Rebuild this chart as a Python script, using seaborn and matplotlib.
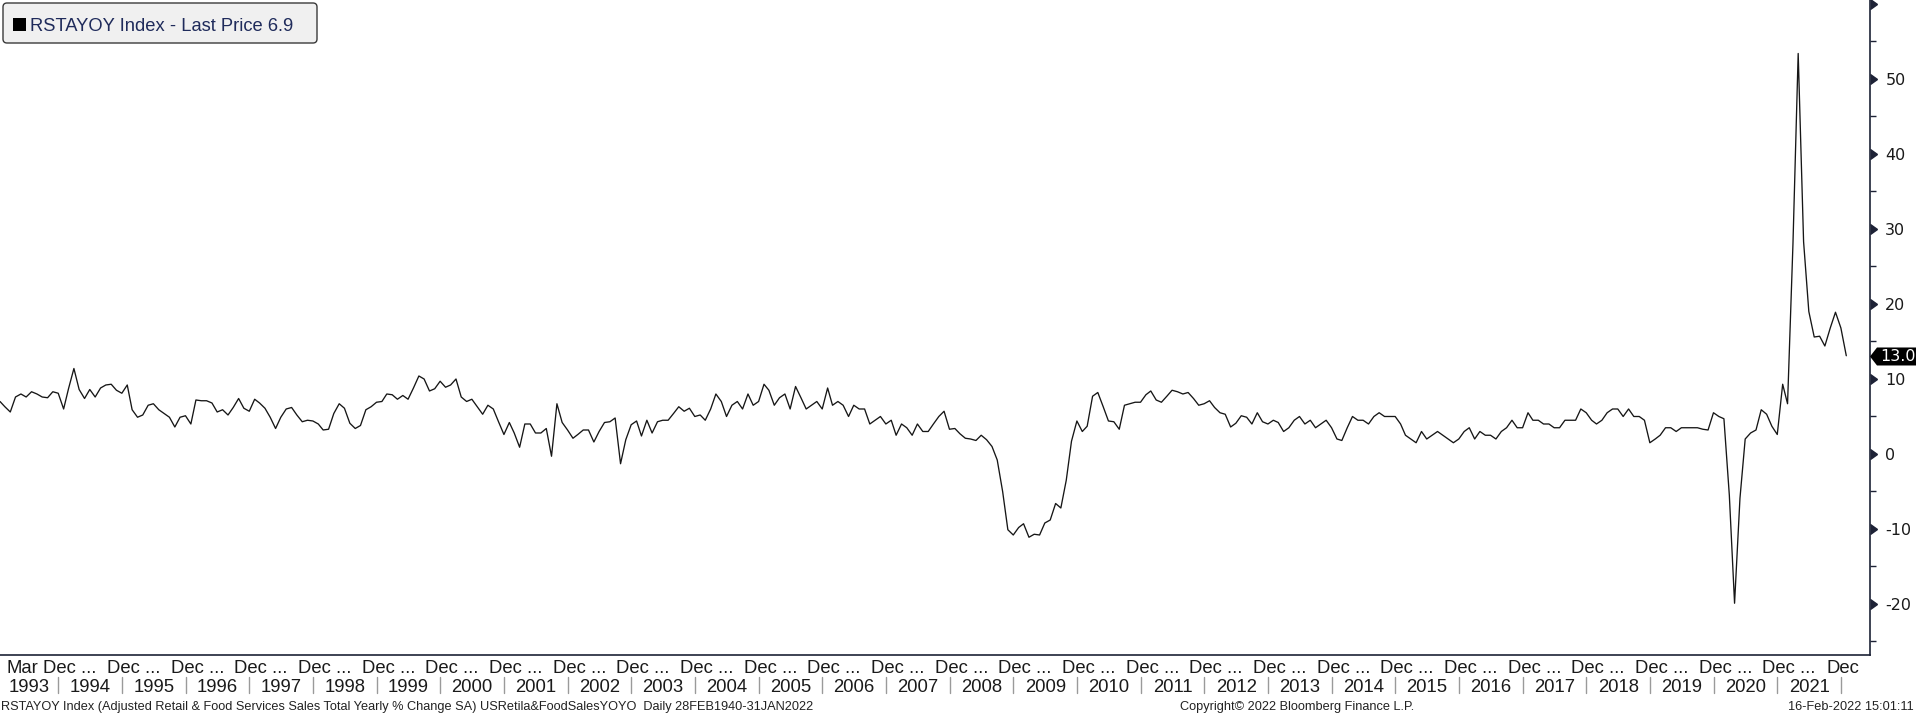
import numpy as np
import pandas as pd
import matplotlib
matplotlib.use('Agg')
import matplotlib.pyplot as plt
import matplotlib.dates as mdates
import matplotlib.transforms as mtransforms
from matplotlib.patches import FancyBboxPatch, Polygon, Rectangle
from matplotlib.lines import Line2D
import seaborn as sns

# monthly retail sales yoy %, Jan 1993 .. Jan 2022
yoy = [
    7.0, 6.3, 5.6, 7.6, 8.0, 7.6, 8.3, 8.0, 7.6, 7.5, 8.3, 8.1,        # 1993
    6.0, 8.7, 11.4, 8.6, 7.4, 8.6, 7.6, 8.8, 9.2, 9.3, 8.5, 8.1,       # 1994
    9.2, 5.9, 4.9, 5.2, 6.5, 6.7, 5.9, 5.4, 4.9, 3.6, 4.9, 5.1,        # 1995
    4.0, 7.2, 7.1, 7.1, 6.8, 5.6, 5.9, 5.2, 6.2, 7.4, 6.1, 5.7,        # 1996
    7.3, 6.8, 6.1, 4.9, 3.4, 4.9, 6.0, 6.2, 5.2, 4.3, 4.5, 4.4,        # 1997
    4.0, 3.2, 3.3, 5.4, 6.7, 6.1, 4.1, 3.4, 3.8, 5.9, 6.3, 6.9,        # 1998
    7.0, 8.0, 7.9, 7.3, 7.8, 7.3, 8.8, 10.4, 10.0, 8.4, 8.7, 9.7,      # 1999
    8.9, 9.2, 10.0, 7.6, 7.0, 7.3, 6.3, 5.3, 6.5, 6.0, 4.3, 2.6,       # 2000
    4.2, 2.8, 0.9, 4.0, 4.0, 2.8, 2.8, 3.4, -0.3, 6.7, 4.2, 3.2,       # 2001
    2.1, 2.6, 3.2, 3.2, 1.6, 3.0, 4.2, 4.3, 4.8, -1.3, 1.9, 3.9,       # 2002
    4.4, 2.4, 4.5, 2.8, 4.3, 4.5, 4.5, 5.4, 6.3, 5.7, 6.1, 5.0,        # 2003
    5.2, 4.5, 6.0, 8.0, 7.0, 5.0, 6.5, 7.0, 6.0, 8.0, 6.5, 7.0,        # 2004
    9.3, 8.5, 6.5, 7.5, 8.0, 6.0, 9.0, 7.5, 6.0, 6.5, 7.0, 6.0,        # 2005
    8.8, 6.5, 7.0, 6.5, 5.0, 6.5, 6.0, 6.0, 4.0, 4.5, 5.0, 4.0,        # 2006
    4.5, 2.5, 4.0, 3.5, 2.5, 4.0, 3.0, 3.0, 4.0, 5.0, 5.7, 3.3,        # 2007
    3.4, 2.7, 2.1, 2.0, 1.8, 2.5, 1.9, 1.0, -0.8, -5.0, -10.1, -10.8,  # 2008
    -9.8, -9.3, -11.1, -10.7, -10.8, -9.2, -8.8, -6.6, -7.2, -3.5, 1.7, 4.4,  # 2009
    3.0, 3.7, 7.7, 8.2, 6.3, 4.4, 4.3, 3.3, 6.5, 6.7, 6.9, 6.9,        # 2010
    7.9, 8.4, 7.2, 6.9, 7.7, 8.5, 8.3, 8.0, 8.2, 7.4, 6.5, 6.7,        # 2011
    7.1, 6.2, 5.5, 5.3, 3.6, 4.1, 5.1, 4.9, 4.0, 5.5, 4.3, 4.0,        # 2012
    4.5, 4.2, 3.0, 3.5, 4.5, 5.0, 4.0, 4.5, 3.5, 4.0, 4.5, 3.5,        # 2013
    2.0, 1.8, 3.5, 5.0, 4.5, 4.5, 4.0, 5.0, 5.5, 5.0, 5.0, 5.0,        # 2014
    4.0, 2.5, 2.0, 1.5, 3.0, 2.0, 2.5, 3.0, 2.5, 2.0, 1.5, 2.0,        # 2015
    3.0, 3.5, 2.0, 3.0, 2.5, 2.5, 2.0, 3.0, 3.5, 4.5, 3.5, 3.5,        # 2016
    5.5, 4.5, 4.5, 4.0, 4.0, 3.5, 3.5, 4.5, 4.5, 4.5, 6.0, 5.5,        # 2017
    4.5, 4.0, 4.5, 5.5, 6.0, 6.0, 5.0, 6.0, 5.0, 5.0, 4.5, 1.5,        # 2018
    2.0, 2.5, 3.5, 3.5, 3.0, 3.5, 3.5, 3.5, 3.5, 3.3, 3.2, 5.5,        # 2019
    5.0, 4.7, -5.5, -19.9, -5.9, 2.0, 2.8, 3.2, 5.9, 5.3, 3.7, 2.6,    # 2020
    9.3, 6.7, 28.0, 53.4, 28.3, 19.0, 15.6, 15.7, 14.4, 16.8, 18.9, 16.8,  # 2021
    13.1,                                                              # 2022
]
start = '1993-01-31'
years = list(range(1993, 2022))
ytick_vals = list(range(-20, 61, 10))
ylabel_vals = list(range(-20, 51, 10))
last_value = 13.0
legend_text = 'RSTAYOY Index - Last Price 6.9'
footer_left = ('RSTAYOY Index (Adjusted Retail & Food Services Sales Total Yearly % Change SA) '
               'USRetila&FoodSalesYOYO  Daily 28FEB1940-31JAN2022')
footer_mid = 'Copyright\u00a9 2022 Bloomberg Finance L.P.'
footer_right = '16-Feb-2022 15:01:11'

dates = pd.date_range(start, periods=len(yoy), freq='ME')
df = pd.DataFrame({'date': dates, 'yoy': yoy})

sns.set_style('white')
plt.rcParams['font.family'] = ['DejaVu Sans']
plt.rcParams['axes.unicode_minus'] = False
lib = ['Liberation Sans', 'DejaVu Sans']
dark = '#1d2236'
txt = '#1a1a1a'

W, H = 1916, 715
fig = plt.figure(figsize=(W / 100, H / 100), dpi=100)
ax = fig.add_axes([0, 1 - 655 / H, 1870 / W, 655 / H])
sns.lineplot(data=df, x='date', y='yoy', ax=ax, color='#161616', linewidth=0.95)

ax.set_xlim(pd.Timestamp('1993-01-31'), pd.Timestamp('2022-06-16'))
ax.set_ylim(-26.8, 60.53)
ax.set_xlabel('')
ax.set_ylabel('')
for s in ['top', 'left']:
    ax.spines[s].set_visible(False)
for s in ['right', 'bottom']:
    ax.spines[s].set_color(dark)
    ax.spines[s].set_linewidth(1.2)

# y axis on the right with arrow ticks
ax.yaxis.tick_right()
ax.set_yticks(ytick_vals)
ax.set_yticklabels([str(v) if v in ylabel_vals else '' for v in ytick_vals])
ax.set_yticks(list(range(-25, 60, 10)), minor=True)
ax.tick_params(axis='y', which='major', length=0, pad=11, labelsize=11.5, labelcolor=txt)
ax.tick_params(axis='y', which='minor', length=4, width=1, color=dark, direction='out')
ax.plot(np.ones(len(ytick_vals)), ytick_vals, transform=ax.get_yaxis_transform(),
        ls='none', marker=9, ms=7, color=dark, clip_on=False)

# x axis: quarterly ticks, labels drawn by hand
qticks = pd.date_range('1993-04-01', '2022-04-01', freq='QS')
ax.set_xticks(qticks)
ax.set_xticklabels([])
ax.tick_params(axis='x', which='major', length=4, width=1, color=dark, direction='out')

trans = mtransforms.blended_transform_factory(ax.transData, fig.transFigure)
row1 = 1 - 673 / H
row2 = 1 - 692 / H
fs_x = 13.3
fig.text(7 / W, row1, 'Mar', ha='left', va='baseline', fontsize=fs_x, family=lib, color=txt)
for y in years:
    lab = 'Dec' if y == years[-1] else 'Dec ...'
    t = mtransforms.offset_copy(trans, fig=fig, x=-15, y=0, units='dots')
    ax.text(mdates.date2num(pd.Timestamp(f'{y + 1}-01-01')), row1, lab, transform=t,
            ha='left', va='baseline', fontsize=fs_x, family=lib, color=txt, clip_on=False)
    x0 = max(mdates.date2num(pd.Timestamp(f'{y}-01-01')), mdates.date2num(pd.Timestamp(start)))
    x1 = mdates.date2num(pd.Timestamp(f'{y + 1}-01-01'))
    ax.text((x0 + x1) / 2, row2, str(y), transform=trans, ha='center', va='baseline',
            fontsize=fs_x, family=lib, color=txt, clip_on=False)
    fig.add_artist(Line2D([x1, x1], [1 - 693 / H, 1 - 677 / H], transform=trans,
                          color='#9a9a9a', lw=1))

# footer
fig.text(1 / W, 1 - 710 / H, footer_left, ha='left', va='baseline', fontsize=9.2, family=lib, color='#222222')
fig.text(1297 / W, 1 - 710 / H, footer_mid, ha='center', va='baseline', fontsize=9.2, family=lib, color='#222222')
fig.text(1914 / W, 1 - 710 / H, footer_right, ha='right', va='baseline', fontsize=9.2, family=lib, color='#222222')

# legend box
px = mtransforms.IdentityTransform()
fig.add_artist(FancyBboxPatch((3, H - 43), 314, 40, boxstyle='round,pad=0,rounding_size=4',
                              transform=px, fc='#f0f0f0', ec='#3a3a3a', lw=1))
fig.add_artist(Rectangle((13, H - 31), 13, 13, transform=px, fc='black', ec='none'))
fig.text(30 / W, 1 - 31 / H, legend_text, ha='left', va='baseline', fontsize=13.2,
         family=lib, color='#1f2b5b')

# last value tag
tag_t = mtransforms.Affine2D() + mtransforms.ScaledTranslation(1, last_value, ax.get_yaxis_transform())
fig.add_artist(Polygon([[0, 0], [7, 9], [47, 9], [47, -9], [7, -9]], closed=True,
                       transform=tag_t, fc='black', ec='none', zorder=5))
fig.text(1, last_value, f'{last_value:.1f}',
         transform=mtransforms.offset_copy(ax.get_yaxis_transform(), fig=fig, x=28, y=0, units='dots'),
         ha='center', va='center', fontsize=11.5, color='white', zorder=6)

fig.savefig('out.png', dpi=100)
